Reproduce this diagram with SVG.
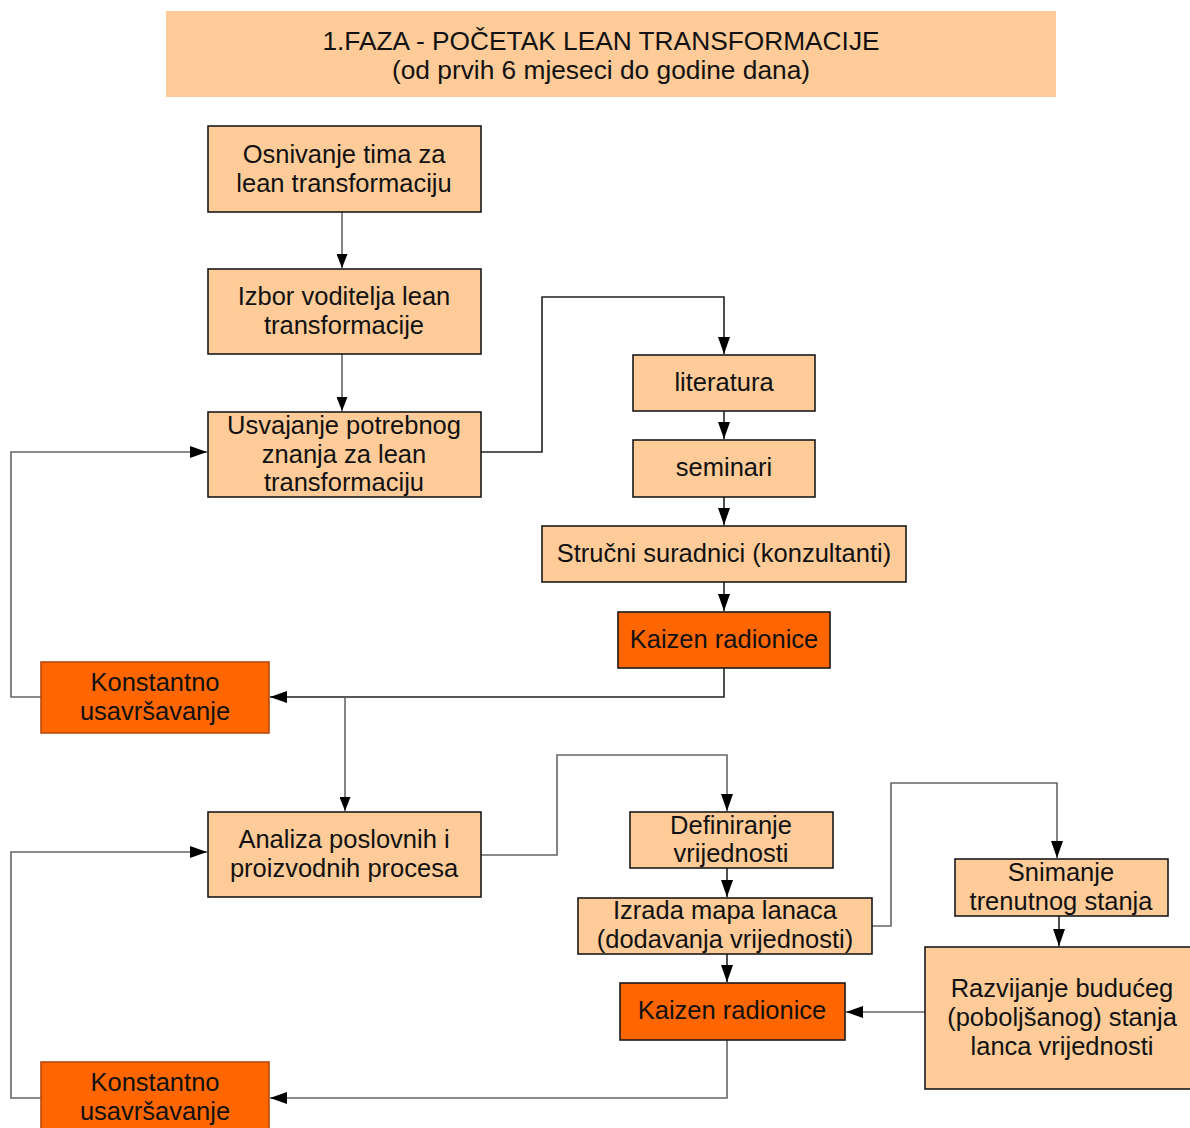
<svg xmlns="http://www.w3.org/2000/svg" width="1190" height="1128" viewBox="0 0 1190 1128">
<style>
.pe{fill:#FFCC99;stroke:#1a1a1a;stroke-width:1.6}
.or{fill:#FF6600;stroke:#1a1a1a;stroke-width:1.6}
.orb{fill:#FF6600;stroke:#B84A10;stroke-width:1.6}
text{font-family:"Liberation Sans",Arial,sans-serif;font-size:25.5px;fill:#111;text-anchor:middle}
.hd{font-size:26.3px}
.c{fill:none;stroke:#222;stroke-width:1.6}
.g{fill:none;stroke:#666;stroke-width:1.6}
</style>
<defs>
<marker id="a" markerUnits="userSpaceOnUse" markerWidth="18" markerHeight="12" refX="17" refY="6" orient="auto">
<path d="M0,0 L17,6 L0,12 Z" fill="#000"/>
</marker>
<marker id="s" markerUnits="userSpaceOnUse" markerWidth="15" markerHeight="11" refX="14" refY="5.5" orient="auto">
<path d="M0,0 L14,5.5 L0,11 Z" fill="#000"/>
</marker>
</defs>
<rect width="1190" height="1128" fill="#fff"/>
<g id="header">
<rect x="166" y="11" width="890" height="86" fill="#FFCC99"/>
<text class="hd" x="601" y="50">1.FAZA - POČETAK LEAN TRANSFORMACIJE</text>
<text class="hd" x="601" y="79">(od prvih 6 mjeseci do godine dana)</text>
</g>
<g id="connectors">
<path class="g" d="M342,212 V268" marker-end="url(#s)"/>
<path class="g" d="M342,354 V411" marker-end="url(#s)"/>
<path class="c" d="M481,452 H542 V297 H724 V354" marker-end="url(#a)"/>
<path class="c" d="M724,411 V439" marker-end="url(#a)"/>
<path class="c" d="M724,497 V525" marker-end="url(#a)"/>
<path class="c" d="M724,582 V611" marker-end="url(#a)"/>
<path class="c" d="M724,668 V697 H270" marker-end="url(#a)"/>
<path class="g" d="M41,697 H11 V452 H207" marker-end="url(#a)"/>
<path class="g" d="M345,697 V811" marker-end="url(#s)"/>
<path class="g" d="M481,855 H557 V755 H727 V811" marker-end="url(#a)"/>
<path class="c" d="M727,868 V897" marker-end="url(#a)"/>
<path class="g" d="M872,926 H891 V783 H1057 V858" marker-end="url(#a)"/>
<path class="c" d="M1059,916 V946" marker-end="url(#a)"/>
<path class="g" d="M925,1012 H846" marker-end="url(#a)"/>
<path class="c" d="M727,954 V982" marker-end="url(#a)"/>
<path class="g" d="M727,1040 V1098 H270" marker-end="url(#a)"/>
<path class="g" d="M41,1098 H11 V852 H207" marker-end="url(#a)"/>
</g>
<g id="osnivanje">
<rect class="pe" x="208" y="126" width="273" height="86"/>
<text x="344" y="163">Osnivanje tima za</text>
<text x="344" y="192">lean transformaciju</text>
</g>
<g id="izbor">
<rect class="pe" x="208" y="269" width="273" height="85"/>
<text x="344" y="305">Izbor voditelja lean</text>
<text x="344" y="334">transformacije</text>
</g>
<g id="usvajanje">
<rect class="pe" x="208" y="412" width="273" height="85"/>
<text x="344" y="434">Usvajanje potrebnog</text>
<text x="344" y="463">znanja za lean</text>
<text x="344" y="491">transformaciju</text>
</g>
<g id="literatura">
<rect class="pe" x="633" y="355" width="182" height="56"/>
<text x="724" y="391">literatura</text>
</g>
<g id="seminari">
<rect class="pe" x="633" y="440" width="182" height="57"/>
<text x="724" y="476">seminari</text>
</g>
<g id="strucni">
<rect class="pe" x="542" y="526" width="364" height="56"/>
<text x="724" y="562">Stručni suradnici (konzultanti)</text>
</g>
<g id="kaizen1">
<rect class="or" x="618" y="612" width="212" height="56"/>
<text x="724" y="648">Kaizen radionice</text>
</g>
<g id="konstantno1">
<rect class="orb" x="41" y="662" width="228" height="71"/>
<text x="155" y="691">Konstantno</text>
<text x="155" y="720">usavršavanje</text>
</g>
<g id="analiza">
<rect class="pe" x="208" y="812" width="273" height="85"/>
<text x="344" y="848">Analiza poslovnih i</text>
<text x="344" y="877">proizvodnih procesa</text>
</g>
<g id="definiranje">
<rect class="pe" x="630" y="812" width="203" height="56"/>
<text x="731" y="834">Definiranje</text>
<text x="731" y="862">vrijednosti</text>
</g>
<g id="izrada">
<rect class="pe" x="578" y="898" width="294" height="56"/>
<text x="725" y="919">Izrada mapa lanaca</text>
<text x="725" y="948">(dodavanja vrijednosti)</text>
</g>
<g id="snimanje">
<rect class="pe" x="955" y="859" width="213" height="57"/>
<text x="1061" y="881">Snimanje</text>
<text x="1061" y="910">trenutnog stanja</text>
</g>
<g id="razvijanje">
<rect class="pe" x="925" y="947" width="280" height="142"/>
<text x="1062" y="997">Razvijanje budućeg</text>
<text x="1062" y="1026">(poboljšanog) stanja</text>
<text x="1062" y="1055">lanca vrijednosti</text>
</g>
<g id="kaizen2">
<rect class="or" x="620" y="983" width="225" height="57"/>
<text x="732" y="1019">Kaizen radionice</text>
</g>
<g id="konstantno2">
<rect class="orb" x="41" y="1062" width="228" height="80"/>
<text x="155" y="1091">Konstantno</text>
<text x="155" y="1120">usavršavanje</text>
</g>
</svg>
